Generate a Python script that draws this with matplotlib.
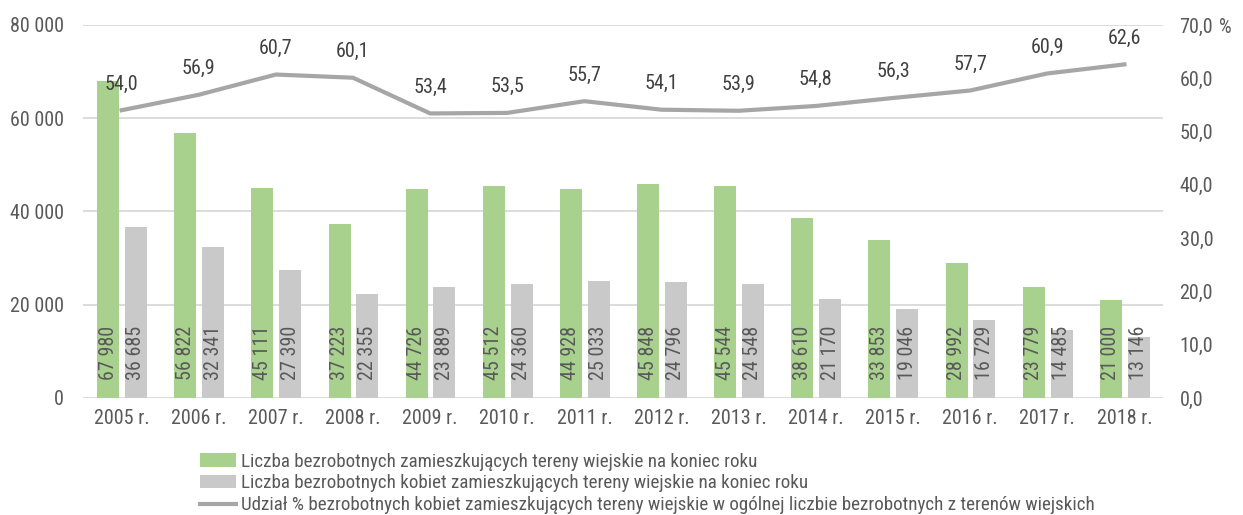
import matplotlib.pyplot as plt
import numpy as np

plt.rcParams['font.family'] = ['Roboto Condensed', 'DejaVu Sans']

years = ['2005 r.', '2006 r.', '2007 r.', '2008 r.', '2009 r.', '2010 r.', '2011 r.',
         '2012 r.', '2013 r.', '2014 r.', '2015 r.', '2016 r.', '2017 r.', '2018 r.']
unemployed = [67980, 56822, 45111, 37223, 44726, 45512, 44928,
              45848, 45544, 38610, 33853, 28992, 23779, 21000]
women = [36685, 32341, 27390, 22355, 23889, 24360, 25033,
         24796, 24548, 21170, 19046, 16729, 14485, 13146]
share = [54.0, 56.9, 60.7, 60.1, 53.4, 53.5, 55.7, 54.1, 53.9, 54.8, 56.3, 57.7, 60.9, 62.6]

labels = ['Liczba bezrobotnych zamieszkujących tereny wiejskie na koniec roku',
          'Liczba bezrobotnych kobiet zamieszkujących tereny wiejskie na koniec roku',
          'Udział % bezrobotnych kobiet zamieszkujących tereny wiejskie w ogólnej liczbie bezrobotnych z terenów wiejskich']

green = '#A9D18E'
grey = '#C9C9C9'
line_col = '#A6A6A6'
txt = '#595959'

def fmt(v):
    return f'{v:,}'.replace(',', ' ')

fig = plt.figure(figsize=(12.43, 5.15), dpi=100)
ax = fig.add_axes([0.0668, 0.2272, 0.8688, 0.7243])
ax2 = ax.twinx()

x = np.arange(len(years))
w = 0.285
b1 = ax.bar(x - 0.175, unemployed, w, color=green, label=labels[0], zorder=2)
b2 = ax.bar(x + 0.185, women, w, color=grey, label=labels[1], zorder=2)
for xi, v in zip(x, unemployed):
    ax.annotate(fmt(v), (xi - 0.175, 0), xytext=(0, 13), textcoords='offset points',
                rotation=90, ha='center', va='bottom', fontsize=14.5, color=txt)
for xi, v in zip(x, women):
    ax.annotate(fmt(v), (xi + 0.185, 0), xytext=(0, 13), textcoords='offset points',
                rotation=90, ha='center', va='bottom', fontsize=14.5, color=txt)

ln, = ax2.plot(x, share, color=line_col, lw=3, label=labels[2], zorder=3)
for xi, v in zip(x, share):
    ax2.annotate(f'{v:.1f}'.replace('.', ','), (xi, v), xytext=(0, 12), textcoords='offset points',
                 ha='center', va='bottom', fontsize=14.5, color='#404040')

ax.set_xlim(-0.5, len(years) - 0.5)
ax.set_ylim(0, 80000)
ax.set_yticks(np.arange(0, 80001, 20000))
ax.set_yticklabels([fmt(v) for v in range(0, 80001, 20000)])
ax2.set_ylim(0, 70)
ax2.set_yticks(np.arange(0, 71, 10))
ax2.set_yticklabels([f'{v:.1f}'.replace('.', ',') for v in range(0, 71, 10)])
ax.set_xticks(x)
ax.set_xticklabels(years)

ax.grid(axis='y', color='#D9D9D9', lw=1.3, zorder=0)
ax.set_axisbelow(True)
for a in (ax, ax2):
    for s in a.spines.values():
        s.set_visible(False)
    a.tick_params(length=0, labelsize=14.5, labelcolor=txt)
ax.tick_params(axis='y', pad=14)
ax.tick_params(axis='x', pad=8)
ax2.tick_params(axis='y', pad=12)
fig.text(0.986, 0.935, '%', fontsize=14.5, color=txt, ha='center')

fig.legend(handles=[b1, b2, ln], loc='upper left', bbox_to_anchor=(0.155, 0.136),
           frameon=False, fontsize=13.7, labelcolor=txt, handlelength=1.9,
           handletextpad=0.25, labelspacing=0.2, borderaxespad=0)

fig.savefig('out.png', dpi=100)
